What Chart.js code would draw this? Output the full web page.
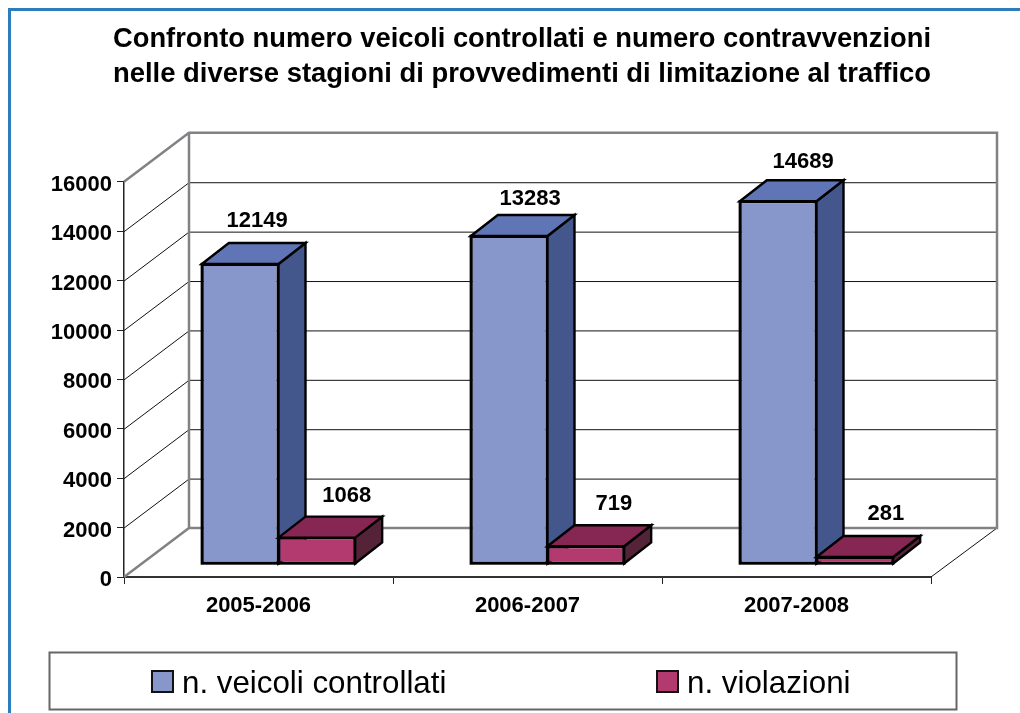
<!DOCTYPE html>
<html lang="it">
<head>
<meta charset="utf-8">
<title>Confronto veicoli controllati e contravvenzioni</title>
<script src="https://cdn.jsdelivr.net/npm/chart.js@4"></script>
<style>
    html, body { margin: 0; padding: 0; background: #fff; }
    canvas { display: block; }
</style>
</head>
<body>
<canvas id="trafficChart" width="1020" height="713"></canvas>
<script>
const seasons = ['2005-2006', '2006-2007', '2007-2008'];
const veicoliControllati = [12149, 13283, 14689];
const violazioni = [1068, 719, 281];
const titleLines = [
    'Confronto numero veicoli controllati e numero contravvenzioni',
    'nelle diverse stagioni di provvedimenti di limitazione al traffico'
];

// 3d look
const wallDepth = { x: 65, y: 49 };
const barShift = { x: 20, y: 13 };
const barDepth = { x: 27, y: 21 };
const sideColors = ['#44578C', '#552338'];
const topColors = ['#5F75B5', '#862653'];
// where the value labels sit, from the front top corner centre of each bar
const labelNudge = [
    [[17, -43], [21, -37], [25, -39]],
    [[30, -42], [28, -42], [31, -43]]
];

const FONT = '"Liberation Sans", Arial, sans-serif';
Chart.defaults.font.family = FONT;
Chart.defaults.color = '#000';

const pageFrame = {
    id: 'pageFrame',
    afterLayout(chart) {
        // title is centred over the plot, not the whole canvas
        chart.titleBlock.left = 113;
        chart.titleBlock.right = chart.chartArea.right;
    },
    beforeDraw(chart) {
        const ctx = chart.ctx;
        ctx.save();
        ctx.fillStyle = '#fff';
        ctx.fillRect(0, 0, chart.width, chart.height);
        ctx.fillStyle = '#2E7DBB';
        ctx.fillRect(8, 8, chart.width - 8, 3);
        ctx.fillRect(8, 8, 3, chart.height - 8);
        ctx.restore();
    }
};

// back wall, side wall and floor, behind the bars
const walls = {
    id: 'walls',
    beforeDatasetsDraw(chart) {
        const ctx = chart.ctx;
        const { left, right } = chart.chartArea;
        const yScale = chart.scales.y;
        const backLeft = left + wallDepth.x;
        const backRight = right + wallDepth.x + 1;
        const floor = yScale.getPixelForValue(0);
        const roof = yScale.getPixelForValue(16000);

        ctx.save();
        ctx.lineWidth = 1;
        ctx.strokeStyle = '#111';
        ctx.beginPath();
        yScale.ticks.forEach(function (tick) {
            const y = yScale.getPixelForValue(tick.value);
            if (tick.value > 0 && tick.value < 16000) {
                ctx.moveTo(left, y + 0.5);
                ctx.lineTo(backLeft, y - wallDepth.y + 0.5);
                ctx.lineTo(backRight, y - wallDepth.y + 0.5);
            }
        });
        ctx.moveTo(right, floor);
        ctx.lineTo(backRight, floor - wallDepth.y);
        ctx.stroke();

        ctx.lineWidth = 2.5;
        ctx.strokeStyle = '#808285';
        ctx.beginPath();
        ctx.moveTo(left, floor);
        ctx.lineTo(backLeft, floor - wallDepth.y);
        ctx.lineTo(backRight, floor - wallDepth.y);
        ctx.lineTo(backRight, roof - wallDepth.y);
        ctx.lineTo(backLeft, roof - wallDepth.y);
        ctx.lineTo(left, roof);
        ctx.moveTo(backLeft, roof - wallDepth.y);
        ctx.lineTo(backLeft, floor - wallDepth.y);
        ctx.stroke();
        ctx.restore();
    }
};

// library would paint the second series first, so paint them here in reading
// order: front (the bar element itself), then side and top faces
const bars3d = {
    id: 'bars3d',
    beforeDatasetDraw() {
        return false;
    },
    afterDatasetsDraw(chart) {
        const ctx = chart.ctx;
        ctx.save();
        ctx.translate(barShift.x, -barShift.y);
        chart.data.datasets.forEach(function (dataset, i) {
            chart.getDatasetMeta(i).data.forEach(function (bar) {
                const x0 = bar.x - bar.width / 2;
                const x1 = bar.x + bar.width / 2;
                const top = bar.y;
                const base = bar.base;

                bar.draw(ctx);

                ctx.lineWidth = 2.4;
                ctx.strokeStyle = '#000';
                ctx.strokeRect(x0, top, bar.width, base - top);

                ctx.fillStyle = sideColors[i];
                ctx.beginPath();
                ctx.moveTo(x1, top);
                ctx.lineTo(x1 + barDepth.x, top - barDepth.y);
                ctx.lineTo(x1 + barDepth.x, base - barDepth.y);
                ctx.lineTo(x1, base);
                ctx.closePath();
                ctx.fill();
                ctx.stroke();

                ctx.fillStyle = topColors[i];
                ctx.beginPath();
                ctx.moveTo(x0, top);
                ctx.lineTo(x0 + barDepth.x, top - barDepth.y);
                ctx.lineTo(x1 + barDepth.x, top - barDepth.y);
                ctx.lineTo(x1, top);
                ctx.closePath();
                ctx.fill();
                ctx.stroke();
            });
        });
        ctx.restore();
    }
};

const valueLabels = {
    id: 'valueLabels',
    afterDatasetsDraw(chart) {
        const ctx = chart.ctx;
        ctx.save();
        ctx.font = 'bold 22px ' + FONT;
        ctx.fillStyle = '#000';
        ctx.textAlign = 'center';
        ctx.textBaseline = 'middle';
        chart.data.datasets.forEach(function (dataset, i) {
            chart.getDatasetMeta(i).data.forEach(function (bar, j) {
                const nudge = labelNudge[i][j];
                ctx.fillText(String(dataset.data[j]), bar.x + barShift.x + nudge[0], bar.y - barShift.y + nudge[1]);
            });
        });
        ctx.restore();
    }
};

const legendBox = {
    id: 'legendBox',
    afterDraw(chart) {
        const ctx = chart.ctx;
        const swatchX = [152, 657];
        ctx.save();
        ctx.lineWidth = 2;
        ctx.strokeStyle = '#666';
        ctx.strokeRect(49.5, 652.5, 907, 57);
        ctx.font = '31.3px ' + FONT;
        ctx.textBaseline = 'alphabetic';
        chart.data.datasets.forEach(function (dataset, i) {
            ctx.fillStyle = dataset.backgroundColor;
            ctx.fillRect(swatchX[i], 671, 21, 21);
            ctx.strokeStyle = '#111';
            ctx.lineWidth = 2;
            ctx.strokeRect(swatchX[i], 671, 21, 21);
            ctx.fillStyle = '#000';
            ctx.fillText(dataset.label, swatchX[i] + 30, 693);
        });
        ctx.restore();
    }
};

const trafficChart = new Chart(document.getElementById('trafficChart'), {
    type: 'bar',
    data: {
        labels: seasons,
        datasets: [{
            label: 'n. veicoli controllati',
            data: veicoliControllati,
            backgroundColor: '#8796CB',
            borderColor: '#000',
            borderWidth: 2,
            borderSkipped: false,
            categoryPercentage: 0.57,
            barPercentage: 1
        }, {
            label: 'n. violazioni',
            data: violazioni,
            backgroundColor: '#B23A6E',
            borderColor: '#000',
            borderWidth: 2,
            borderSkipped: false,
            categoryPercentage: 0.57,
            barPercentage: 1
        }]
    },
    options: {
        responsive: false,
        animation: false,
        layout: { padding: { top: 22, left: 8, right: 89, bottom: 96 } },
        plugins: {
            legend: { display: false },
            tooltip: { enabled: false },
            title: {
                display: true,
                text: titleLines,
                color: '#000',
                font: { size: 27.5, weight: 'bold', lineHeight: 1.27 },
                padding: { top: 0, bottom: 90 }
            }
        },
        scales: {
            x: {
                grid: {
                    drawOnChartArea: false,
                    tickLength: 7,
                    tickColor: '#222',
                    offset: true
                },
                border: { color: '#333', width: 2 },
                ticks: { padding: 9, font: { size: 22, weight: 'bold' }, maxRotation: 0 },
                afterFit: function (scale) { scale.height = 40; }
            },
            y: {
                min: 0,
                max: 16000,
                grid: {
                    drawOnChartArea: false,
                    tickLength: 7,
                    tickColor: '#222'
                },
                border: { color: '#222', width: 1.5 },
                ticks: {
                    stepSize: 2000,
                    padding: 5,
                    labelOffset: 3,
                    font: { size: 22, weight: 'bold' },
                    callback: function (value) { return String(value); }
                },
                afterFit: function (scale) { scale.width = 116; }
            }
        }
    },
    plugins: [pageFrame, walls, bars3d, valueLabels, legendBox]
});
</script>
</body>
</html>
